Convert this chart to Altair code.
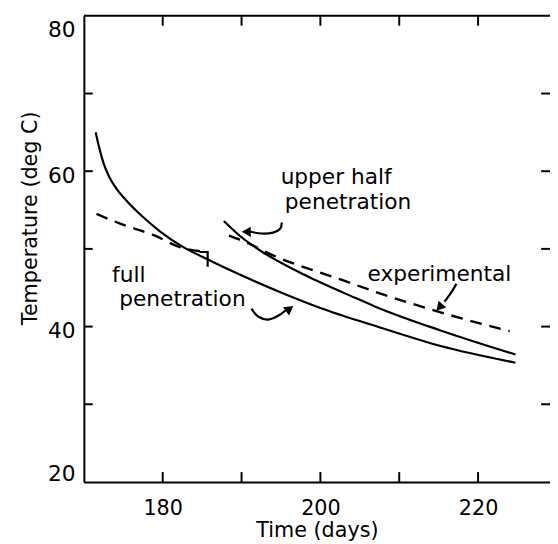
import altair as alt
import pandas as pd

# ---- axis ranges / ticks ----
X_DOMAIN = [170, 229.125]
Y_DOMAIN = [20, 80]
x_ticks = [180, 190, 200, 210, 220]
x_labels = [180, 200, 220]
y_ticks = [30, 40, 50, 60, 70]
y_labels = [20, 40, 60, 80]

# ---- curves ----
full_day = [171.5, 171.9, 172.5, 173.25, 174.25, 175.5, 177.5, 179.6, 182.5, 185.4, 190.4, 195.0, 200.0, 206.9, 215.25, 224.75]
full_temp = [65.0, 63.2, 61.0, 59.2, 57.6, 56.1, 54.1, 52.3, 50.3, 48.8, 46.4, 44.4, 42.4, 40.1, 37.5, 35.35]

upper_day = [187.75, 190.0, 192.5, 198.1, 204.4, 206.9, 215.25, 224.75]
upper_temp = [53.6, 51.5, 49.7, 46.6, 43.7, 42.6, 39.5, 36.4]

exp1_day = [171.6, 174.6, 179.0, 182.25, 185.6]
exp1_temp = [54.5, 53.25, 51.7, 50.2, 49.6]
exp2_day = [188.4, 190.9, 193.5, 202.75, 206.9, 214.0, 224.0]
exp2_temp = [51.7, 50.7, 49.4, 46.0, 44.5, 42.2, 39.4]

bracket_day = [184.7, 185.7, 185.7]
bracket_temp = [49.6, 49.6, 47.7]

# ---- annotations ----
label_text = ["upper half", "penetration", "experimental", "full", "penetration"]
label_day = [202.0, 203.5, 215.1, 175.7, 182.5]
label_temp = [58.3, 55.15, 45.9, 45.75, 42.6]

arrow1_day = [195.1, 194.9, 194.0, 192.6, 191.1]
arrow1_temp = [53.4, 52.6, 52.1, 51.98, 52.2]
arrow2_day = [217.25, 216.6, 215.75]
arrow2_temp = [45.5, 44.4, 43.2]
arrow3_day = [191.25, 192.1, 193.4, 194.75, 195.6]
arrow3_temp = [42.3, 41.3, 40.9, 41.45, 42.1]

head_day = [190.6, 215.1, 196.1]
head_temp = [52.2, 42.46, 42.3]
head_angle = [270, 222, 54]

FONT = "DejaVu Sans"
TICK_LEN_X = 9 / 8.0      # days  (~9 px)
TICK_LEN_Y = 10 / 7.883   # deg C (~10 px)


def seq(days, temps, key):
    return pd.DataFrame({"day": days, "temp": temps, "key": key, "i": range(len(days))})


solid_df = pd.concat([seq(full_day, full_temp, "full"), seq(upper_day, upper_temp, "upper")])
dash_df = pd.concat([seq(exp1_day, exp1_temp, "e1"), seq(exp2_day, exp2_temp, "e2")])
bracket_df = seq(bracket_day, bracket_temp, "b")
arrow_df = pd.concat([seq(arrow1_day, arrow1_temp, "a1"), seq(arrow2_day, arrow2_temp, "a2"),
                      seq(arrow3_day, arrow3_temp, "a3")])
head_df = pd.DataFrame({"day": head_day, "temp": head_temp, "angle": head_angle})
label_df = pd.DataFrame({"day": label_day, "temp": label_temp, "text": label_text})

xt = pd.DataFrame({"day": x_ticks})
yt = pd.DataFrame({"temp": y_ticks})

x_scale = alt.Scale(domain=X_DOMAIN, nice=False, zero=False)
y_scale = alt.Scale(domain=Y_DOMAIN, nice=False, zero=False)

x_axis = alt.Axis(values=x_labels, ticks=False, tickSize=0, grid=False, domainWidth=2,
                  domainColor="black", labelFont=FONT, labelFontSize=21, labelColor="black",
                  labelPadding=16, title="Time (days)", titleFont=FONT, titleFontSize=21,
                  titleFontWeight="normal", titleColor="black", titleY=55,
                  titleBaseline="alphabetic")
y_axis = alt.Axis(values=y_labels, ticks=False, tickSize=0, grid=False, domainWidth=2,
                  domainColor="black", labelFont=FONT, labelFontSize=22, labelColor="black",
                  labelPadding=9, labelFlush=True, labelOffset=4,
                  title="Temperature (deg C)", titleFont=FONT, titleFontSize=21,
                  titleFontWeight="normal", titleColor="black", titleX=-48, titleY=205,
                  titleAlign="center", titleBaseline="alphabetic")

X = alt.X("day:Q", scale=x_scale, axis=x_axis)
Y = alt.Y("temp:Q", scale=y_scale, axis=y_axis)

solid = alt.Chart(solid_df).mark_line(color="black", strokeWidth=2.2, interpolate="monotone").encode(
    x=X, y=Y, detail="key:N", order="i:Q")
dashed = alt.Chart(dash_df).mark_line(color="black", strokeWidth=2.4, strokeDash=[12, 8],
                                      interpolate="monotone").encode(
    x=X, y=Y, detail="key:N", order="i:Q")
bracket = alt.Chart(bracket_df).mark_line(color="black", strokeWidth=2.2).encode(
    x=X, y=Y, order="i:Q")
arrows = alt.Chart(arrow_df).mark_line(color="black", strokeWidth=2.2, interpolate="cardinal").encode(
    x=X, y=Y, detail="key:N", order="i:Q")
heads = alt.Chart(head_df).mark_point(shape="triangle-up", filled=True, color="black",
                                      size=110, opacity=1).encode(
    x=X, y=Y, angle=alt.Angle("angle:Q", scale=None))
labels = alt.Chart(label_df).mark_text(font=FONT, fontSize=22, color="black", align="center",
                                       baseline="alphabetic").encode(
    x=X, y=Y, text="text:N")

bottom_ticks = alt.Chart(xt).transform_calculate(t0="20", t1=str(20 + TICK_LEN_Y)).mark_rule(
    color="black", strokeWidth=2).encode(x=X, y=alt.Y("t0:Q", scale=y_scale, axis=y_axis), y2="t1:Q")
top_ticks = alt.Chart(xt).transform_calculate(t0="80", t1=str(80 - TICK_LEN_Y)).mark_rule(
    color="black", strokeWidth=2).encode(x=X, y=alt.Y("t0:Q", scale=y_scale, axis=y_axis), y2="t1:Q")
left_ticks = alt.Chart(yt).transform_calculate(d0=str(X_DOMAIN[0]), d1=str(X_DOMAIN[0] + TICK_LEN_X)).mark_rule(
    color="black", strokeWidth=2).encode(y=Y, x=alt.X("d0:Q", scale=x_scale, axis=x_axis), x2="d1:Q")
right_ticks = alt.Chart(yt).transform_calculate(d0=str(X_DOMAIN[1] - TICK_LEN_X), d1=str(X_DOMAIN[1])).mark_rule(
    color="black", strokeWidth=2).encode(y=Y, x=alt.X("d0:Q", scale=x_scale, axis=x_axis), x2="d1:Q")
top_frame = alt.Chart(pd.DataFrame({"temp": [80]})).transform_calculate(
    d0=str(X_DOMAIN[0]), d1=str(X_DOMAIN[1])).mark_rule(color="black", strokeWidth=2).encode(
    y=Y, x=alt.X("d0:Q", scale=x_scale, axis=x_axis), x2="d1:Q")

chart = alt.layer(solid, dashed, bracket, arrows, heads, labels,
                  bottom_ticks, top_ticks, left_ticks, right_ticks, top_frame).properties(
    width=473, height=473, autosize="none",
    padding={"left": 77, "top": 4, "right": 0, "bottom": 58},
    background="white",
).configure_view(stroke=None)

chart.save("out.html", embed_options={"renderer": "svg", "actions": False})
